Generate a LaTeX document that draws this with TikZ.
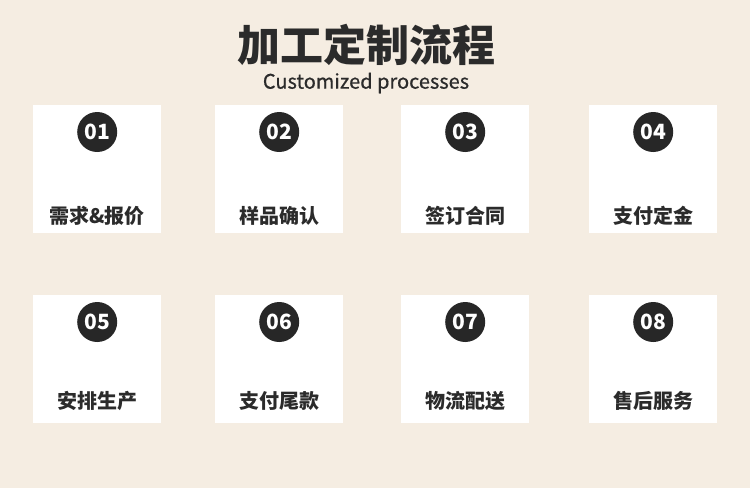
\documentclass[tikz,border=0pt]{standalone}
\usepackage{fontspec}
\newfontfamily\cjk{Noto Sans CJK SC}
\newfontfamily\cjksemi[FakeBold=0.6]{Noto Sans CJK SC}
\definecolor{bgc}{HTML}{F5EDE2}
\definecolor{darkc}{HTML}{272727}
\definecolor{txtc}{HTML}{2B2B2B}
\tikzset{
  card/.style={fill=white, draw=none, minimum width=128pt, minimum height=128pt, inner sep=0pt, anchor=north west},
  numdot/.style={circle, fill=darkc, minimum size=40pt, inner sep=0pt, text=white, font=\cjk\bfseries\fontsize{21pt}{21pt}\selectfont},
  lbl/.style={text=txtc, inner sep=0pt, font=\cjk\bfseries\fontsize{20pt}{20pt}\selectfont},
}
\begin{document}
\begin{tikzpicture}[x=1pt,y=-1pt]
\fill[bgc] (0,0) rectangle (750,488);
\useasboundingbox (0,0) rectangle (750,488);
\node[text=txtc, inner sep=0pt, font=\cjk\bfseries\fontsize{43pt}{43pt}\selectfont] (title) at (366,45) {加工定制流程};
\node[text=txtc, inner sep=0pt, font=\cjksemi\fontsize{20pt}{20pt}\selectfont] (sub) at (366,83) {Customized processes};
\foreach \i/\x/\y/\ly/\t in {1/33/105/216/需求\&报价, 2/215/105/216/样品确认, 3/401/105/216/签订合同, 4/589/105/216/支付定金,
                         5/33/295/401/安排生产, 6/215/295/401/支付尾款, 7/401/295/401/物流配送, 8/589/295/401/售后服务}{
  \node[card] (c\i) at (\x,\y) {};
  \node[numdot] (n\i) at ([yshift=-27pt]c\i.north) {0\i};
  \node[lbl] (l\i) at (\x+64,\ly) {\t};
}
\end{tikzpicture}
\end{document}
